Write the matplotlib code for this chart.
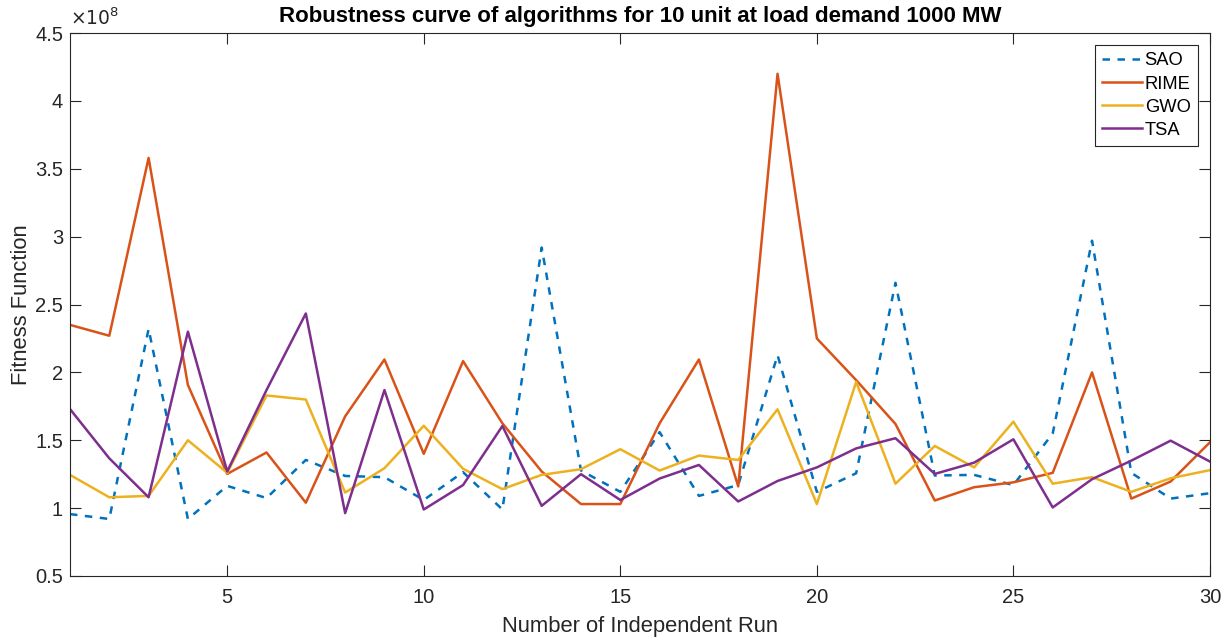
import matplotlib
matplotlib.use('Agg')
import matplotlib.pyplot as plt
from matplotlib.ticker import FuncFormatter
import numpy as np

plt.rcParams['font.family'] = ['Liberation Sans', 'DejaVu Sans']

runs = np.arange(1, 31)

sao = [0.956, 0.92, 2.32, 0.92, 1.164, 1.074, 1.355, 1.237, 1.228, 1.06,
       1.265, 0.99, 2.92, 1.277, 1.12, 1.56, 1.09, 1.17, 2.127, 1.12,
       1.257, 2.66, 1.24, 1.245, 1.17, 1.55, 2.97, 1.26, 1.07, 1.11]
rime = [2.35, 2.27, 3.58, 1.907, 1.252, 1.41, 1.04, 1.676, 2.095, 1.40,
        2.083, 1.625, 1.27, 1.03, 1.03, 1.625, 2.095, 1.16, 4.2, 2.25,
        1.943, 1.62, 1.056, 1.154, 1.19, 1.26, 2.0, 1.07, 1.196, 1.485]
gwo = [1.245, 1.08, 1.09, 1.50, 1.26, 1.83, 1.80, 1.115, 1.294, 1.607,
       1.29, 1.14, 1.245, 1.287, 1.434, 1.277, 1.387, 1.355, 1.728, 1.03,
       1.93, 1.18, 1.458, 1.30, 1.637, 1.18, 1.228, 1.12, 1.22, 1.28]
tsa = [1.73, 1.367, 1.08, 2.30, 1.27, 1.87, 2.434, 0.963, 1.87, 0.99,
       1.17, 1.605, 1.017, 1.25, 1.06, 1.218, 1.318, 1.049, 1.20, 1.30,
       1.44, 1.515, 1.252, 1.335, 1.507, 1.005, 1.213, 1.35, 1.497, 1.343]

scale = 1e8
grey = '#262626'

fig = plt.figure(figsize=(12.32, 6.39), dpi=100)
ax = fig.add_axes([0.0568, 0.0986, 0.9253, 0.8497])

lw = 1.8
ax.plot(runs, np.array(sao) * scale, color='#0072BD', linestyle=(0, (3.0, 3.0)), lw=lw, label='SAO')
ax.plot(runs, np.array(rime) * scale, color='#D95319', lw=lw, label='RIME')
ax.plot(runs, np.array(gwo) * scale, color='#EDB120', lw=lw, label='GWO')
ax.plot(runs, np.array(tsa) * scale, color='#7E2F8E', lw=lw, label='TSA')

ax.set_xlim(1, 30)
ax.set_ylim(0.5e8, 4.5e8)
ax.set_xticks([5, 10, 15, 20, 25, 30])
ax.set_yticks(np.arange(0.5, 4.51, 0.5) * scale)
ax.yaxis.set_major_formatter(FuncFormatter(lambda v, p: f'{v / scale:g}'))
ax.text(0.0, 1.007, r'$\times10^{8}$', transform=ax.transAxes, fontsize=13.5,
        color=grey, ha='left', va='bottom')

ax.tick_params(direction='in', top=True, right=True, length=7.7, width=0.8,
               labelsize=14.5, colors=grey)
ax.tick_params(axis='x', pad=9)
ax.tick_params(axis='y', pad=5)
for s in ax.spines.values():
    s.set_color(grey)
    s.set_linewidth(0.8)

ax.set_title('Robustness curve of algorithms for 10 unit at load demand 1000 MW',
             fontsize=16, fontweight='bold', pad=8)
ax.set_xlabel('Number of Independent Run', fontsize=15.8, color=grey, labelpad=6)
ax.set_ylabel('Fitness Function', fontsize=15.8, color=grey, labelpad=2.5)

leg = ax.legend(loc='upper right', fontsize=13.2, fancybox=False, framealpha=1,
                edgecolor=grey, handlelength=2.15, handletextpad=0.15,
                labelspacing=0.33, borderaxespad=0.64, borderpad=0.42)
leg.get_frame().set_linewidth(0.8)

fig.savefig('out.png', dpi=100)
